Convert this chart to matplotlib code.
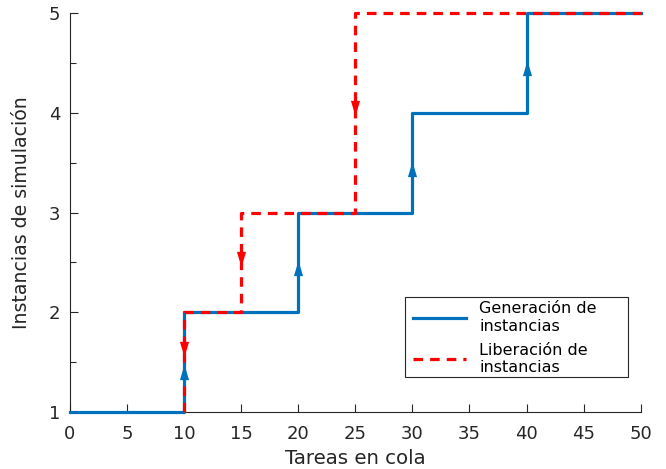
import numpy as np
import matplotlib
matplotlib.use('Agg')
import matplotlib.pyplot as plt
from matplotlib.path import Path
from matplotlib.patches import Rectangle
from matplotlib.ticker import MultipleLocator

# Step curves (steps-post): instances created / released vs queued tasks
gen_x = [0, 10, 20, 30, 40, 50]
gen_y = [1, 2, 3, 4, 5, 5]
rel_x = [10, 10, 15, 25, 50]
rel_y = [1, 2, 3, 5, 5]

# Direction arrows on the vertical jumps
gen_arrow_x = [10, 20, 30, 40]
gen_arrow_y = [1.40, 2.44, 3.44, 4.45]
rel_arrow_x = [10, 15, 25]
rel_arrow_y = [1.63, 2.53, 4.05]

x_ticks = np.arange(0, 51, 5)
y_ticks = [1, 2, 3, 4, 5]

blue = '#0072BD'
red = '#FF0000'
ink = '#262626'

up_head = Path([(-0.3, -0.5), (0.3, -0.5), (0, 0.5), (-0.3, -0.5)],
               [Path.MOVETO, Path.LINETO, Path.LINETO, Path.CLOSEPOLY])
down_head = Path([(-0.3, 0.5), (0.3, 0.5), (0, -0.5), (-0.3, 0.5)],
                 [Path.MOVETO, Path.LINETO, Path.LINETO, Path.CLOSEPOLY])

plt.rcParams['font.family'] = 'DejaVu Sans'

fig = plt.figure(figsize=(6.66, 4.69), dpi=100)
ax = fig.add_axes([0.105, 0.1215, 0.857, 0.8505])

ax.plot(gen_x, gen_y, drawstyle='steps-post', color=blue, lw=2.3,
        label='Generación de\ninstancias', clip_on=False, zorder=3)
ax.plot(rel_x, rel_y, drawstyle='steps-post', color=red, lw=2.3,
        linestyle=(0, (3, 2.2)), label='Liberación de\ninstancias',
        clip_on=False, zorder=4)

ax.plot(gen_arrow_x, gen_arrow_y, linestyle='none', marker=up_head,
        markersize=11, color=blue, markeredgewidth=0, zorder=5)
ax.plot(rel_arrow_x, rel_arrow_y, linestyle='none', marker=down_head,
        markersize=11, color=red, markeredgewidth=0, zorder=5)

ax.set_xlim(0, 50)
ax.set_ylim(1, 5)
ax.set_xticks(x_ticks)
ax.set_yticks(y_ticks)
ax.yaxis.set_minor_locator(MultipleLocator(0.5))

for side in ['top', 'right']:
    ax.spines[side].set_visible(False)
for side in ['left', 'bottom']:
    ax.spines[side].set_color(ink)
    ax.spines[side].set_linewidth(0.8)

ax.tick_params(which='major', direction='in', length=6, width=0.8,
               color=ink, labelcolor=ink, labelsize=13)
ax.tick_params(axis='x', which='major', pad=9)
ax.tick_params(axis='y', which='major', pad=7)
ax.tick_params(which='minor', direction='in', length=4, width=0.8, color=ink)

ax.set_xlabel('Tareas en cola', fontsize=14.2, color=ink, labelpad=5)
ax.set_ylabel('Instancias de simulación', fontsize=13.6, color=ink,
              labelpad=13)

# legend entries without frame, box drawn separately for wider right margin
leg = ax.legend(loc='lower left', bbox_to_anchor=(0.601, 0.093),
                fontsize=11.5, frameon=False, handlelength=3.3,
                borderaxespad=0, borderpad=0, labelspacing=0.55,
                handletextpad=0.85)
leg.set_zorder(7)
ax.add_patch(Rectangle((0.587, 0.088), 0.39, 0.2, transform=ax.transAxes,
                       facecolor='white', edgecolor=ink, linewidth=0.8,
                       zorder=6, clip_on=False))

fig.savefig('out.png', dpi=100)
